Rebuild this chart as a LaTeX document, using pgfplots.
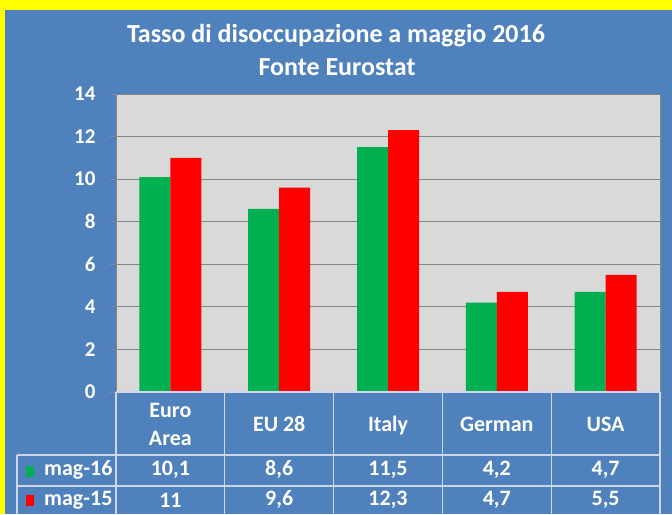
\documentclass[border=0pt]{standalone}
\usepackage{pgfplots}
\pgfplotsset{compat=1.18}
\usepackage{pgfplotstable}
\usepackage{fontspec}
\setmainfont{Carlito}
\definecolor{bgblue}{RGB}{79,129,189}
\definecolor{ygold}{RGB}{255,255,0}
\definecolor{plotgray}{RGB}{217,217,217}
\definecolor{gridgray}{RGB}{134,134,134}
\definecolor{bargreen}{RGB}{0,176,80}
\definecolor{barred}{RGB}{255,0,0}
\definecolor{tabline}{RGB}{205,215,232}

% unemployment rate, May 2016 vs May 2015
\pgfplotstableread{
x v16 v15
0 10.1 11
1 8.6 9.6
2 11.5 12.3
3 4.2 4.7
4 4.7 5.5
}\datatable

\newcommand{\tabfont}{\fontsize{22}{28}\selectfont\bfseries}

\begin{document}
\begin{tikzpicture}[x=1pt,y=1pt]
\fill[ygold] (0,0) rectangle (672,514);
\fill[bgblue] (5,0) rectangle (672,504);
\node[font=\fontsize{26}{30}\selectfont\bfseries, text=white] at (336,478) {Tasso di disoccupazione a maggio 2016};
\node[font=\fontsize{26}{30}\selectfont\bfseries, text=white] at (337,447) {Fonte Eurostat};

\begin{axis}[
  at={(116pt,122pt)}, anchor=south west,
  scale only axis, width=544pt, height=298pt,
  xmin=-0.5, xmax=4.5, ymin=0, ymax=14,
  ytick={0,2,...,14},
  xtick={0,...,4},
  xticklabels={{Euro\\Area},{EU 28},{\raisebox{0pt}[\height][0pt]{Italy}},German,USA},
  xticklabel style={anchor=center, yshift=-25pt, align=center, font=\tabfont, text=white},
  yticklabel style={font=\fontsize{21}{24}\selectfont\bfseries, text=white, xshift=-10pt},
  major x tick style={draw=none},
  ytick pos=left,
  tick align=outside,
  major tick length=7pt,
  ytick style={gridgray, line width=0.8pt},
  ymajorgrids,
  grid style={gridgray, line width=0.8pt},
  axis line style={gridgray, line width=0.8pt},
  axis background/.style={fill=plotgray},
  /pgf/number format/.cd, use comma, 1000 sep={}, assume math mode=true,
  /pgfplots/.cd,
  clip=false,
]
\addplot[ybar, bar width=31pt, bar shift=-15.5pt, fill=bargreen, draw=none] table[x=x, y=v16] {\datatable};
\addplot[ybar, bar width=31pt, bar shift=15.5pt, fill=barred, draw=none] table[x=x, y=v15] {\datatable};
% data table rows
\addplot[only marks, mark=*, mark size=0pt, mark options={draw=none, fill=none},
  nodes near coords, point meta=explicit,
  every node near coord/.append style={anchor=center, font=\tabfont, text=white}]
  table[x=x, y expr=-3.64, meta=v16] {\datatable};
\addplot[only marks, mark=*, mark size=0pt, mark options={draw=none, fill=none},
  nodes near coords, point meta=explicit,
  every node near coord/.append style={anchor=center, font=\tabfont, text=white}]
  table[x=x, y expr=-5.07, meta=v15] {\datatable};
\end{axis}

\begin{scope}[tabline, line width=1.2pt]
\draw (116,122) -- (660,122);
\draw (17,59) -- (660,59);
\draw (17,28) -- (660,28);
\foreach \xx in {116,224.8,333.6,442.4,551.2,660} \draw (\xx,122) -- (\xx,0);
\draw (17,59) -- (17,0);
\end{scope}
\fill[bargreen] (25.5,37) rectangle (33.5,48);
\fill[barred] (25.5,8.5) rectangle (33.5,19.5);
\node[anchor=west, font=\tabfont, text=white, inner sep=0pt] at (44,44.5) {mag-16};
\node[anchor=west, font=\tabfont, text=white, inner sep=0pt] at (44,14) {mag-15};
\end{tikzpicture}
\end{document}
